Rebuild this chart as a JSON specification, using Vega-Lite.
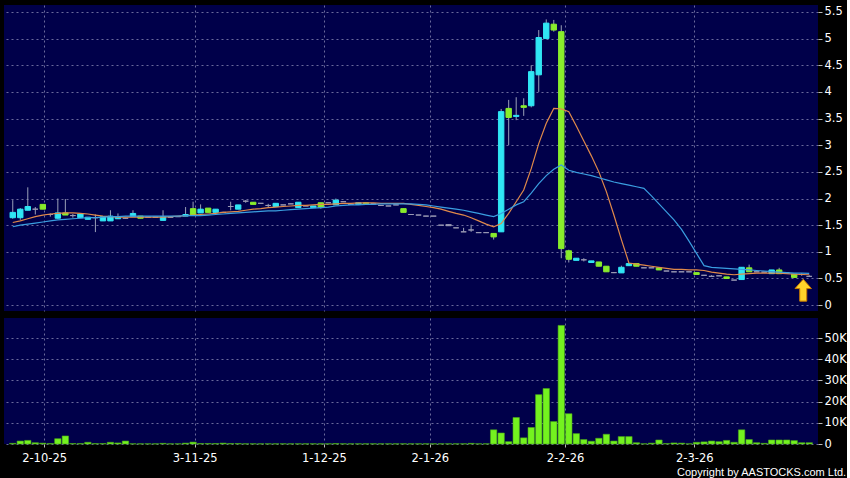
{
"$schema":"https://vega.github.io/schema/vega-lite/v6.json",
"background":"black",
"padding":{"left":4,"top":5,"right":0,"bottom":0},
"spacing":7,
"title":{"text":"Copyright by AASTOCKS.com Ltd.","orient":"bottom","anchor":"end","frame":"bounds","color":"white","fontSize":11,"fontWeight":"normal","font":"Liberation Sans","offset":3},
"config":{"view":{"fill":"#00004a","stroke":null},"axis":{"gridColor":"#6a6a9c","gridDash":[2,3],"gridWidth":1,"labelColor":"white","labelFont":"DejaVu Sans","labelFontSize":11.5,"tickColor":"#bbbbbb","domain":false,"title":null}},
"datasets":{
"k":[
{"i":0,"o":1.64,"c":1.74,"h":1.97,"l":1.62,"v":0.3,"a":1.55,"b":1.47,"d":"u"},
{"i":1,"o":1.64,"c":1.80,"h":1.82,"l":1.60,"v":1.4,"a":1.58,"b":1.50,"d":"u"},
{"i":2,"o":1.78,"c":1.85,"h":2.21,"l":1.78,"v":1.7,"a":1.62,"b":1.52,"d":"u"},
{"i":3,"o":1.80,"c":1.80,"h":1.84,"l":1.70,"v":0.6,"a":1.66,"b":1.54,"d":"f"},
{"i":4,"o":1.89,"c":1.80,"h":1.89,"l":1.80,"v":0.4,"a":1.69,"b":1.56,"d":"d"},
{"i":5,"o":1.70,"c":1.70,"h":1.72,"l":1.66,"v":0.2,"a":1.71,"b":1.58,"d":"f"},
{"i":6,"o":1.63,"c":1.73,"h":2.00,"l":1.62,"v":2.5,"a":1.72,"b":1.60,"d":"u"},
{"i":7,"o":1.73,"c":1.69,"h":1.99,"l":1.69,"v":3.8,"a":1.73,"b":1.61,"d":"d"},
{"i":8,"o":1.68,"c":1.68,"h":1.71,"l":1.64,"v":0.2,"a":1.73,"b":1.62,"d":"f"},
{"i":9,"o":1.64,"c":1.71,"h":1.71,"l":1.64,"v":0.2,"a":1.72,"b":1.63,"d":"u"},
{"i":10,"o":1.61,"c":1.65,"h":1.65,"l":1.61,"v":0.8,"a":1.71,"b":1.64,"d":"u"},
{"i":11,"o":1.64,"c":1.64,"h":1.70,"l":1.37,"v":0.2,"a":1.69,"b":1.64,"d":"f"},
{"i":12,"o":1.58,"c":1.66,"h":1.66,"l":1.58,"v":0.2,"a":1.67,"b":1.65,"d":"u"},
{"i":13,"o":1.58,"c":1.67,"h":1.78,"l":1.58,"v":0.8,"a":1.66,"b":1.66,"d":"u"},
{"i":14,"o":1.62,"c":1.65,"h":1.72,"l":1.62,"v":0.5,"a":1.65,"b":1.66,"d":"u"},
{"i":15,"o":1.63,"c":1.63,"h":1.64,"l":1.62,"v":1.4,"a":1.65,"b":1.67,"d":"f"},
{"i":16,"o":1.66,"c":1.72,"h":1.78,"l":1.66,"v":0.1,"a":1.65,"b":1.67,"d":"u"},
{"i":17,"o":1.67,"c":1.63,"h":1.67,"l":1.63,"v":0.1,"a":1.65,"b":1.67,"d":"d"},
{"i":18,"o":1.65,"c":1.65,"h":1.65,"l":1.65,"v":0.1,"a":1.65,"b":1.67,"d":"f"},
{"i":19,"o":1.65,"c":1.65,"h":1.65,"l":1.65,"v":0.1,"a":1.65,"b":1.67,"d":"f"},
{"i":20,"o":1.59,"c":1.66,"h":1.78,"l":1.59,"v":0.3,"a":1.65,"b":1.67,"d":"u"},
{"i":21,"o":1.65,"c":1.65,"h":1.65,"l":1.65,"v":0.1,"a":1.66,"b":1.67,"d":"f"},
{"i":22,"o":1.66,"c":1.66,"h":1.66,"l":1.66,"v":0.1,"a":1.67,"b":1.67,"d":"f"},
{"i":23,"o":1.67,"c":1.70,"h":1.84,"l":1.67,"v":0.4,"a":1.68,"b":1.68,"d":"u"},
{"i":24,"o":1.81,"c":1.69,"h":1.94,"l":1.69,"v":0.9,"a":1.69,"b":1.68,"d":"d"},
{"i":25,"o":1.73,"c":1.80,"h":1.89,"l":1.73,"v":0.2,"a":1.70,"b":1.68,"d":"u"},
{"i":26,"o":1.82,"c":1.74,"h":1.82,"l":1.74,"v":0.2,"a":1.71,"b":1.69,"d":"d"},
{"i":27,"o":1.74,"c":1.80,"h":1.80,"l":1.74,"v":0.2,"a":1.72,"b":1.70,"d":"u"},
{"i":28,"o":1.74,"c":1.74,"h":1.75,"l":1.73,"v":0.4,"a":1.74,"b":1.71,"d":"f"},
{"i":29,"o":1.85,"c":1.85,"h":1.94,"l":1.78,"v":0.2,"a":1.75,"b":1.72,"d":"f"},
{"i":30,"o":1.80,"c":1.88,"h":1.88,"l":1.80,"v":0.2,"a":1.76,"b":1.73,"d":"u"},
{"i":31,"o":1.95,"c":1.95,"h":1.97,"l":1.92,"v":0.1,"a":1.78,"b":1.74,"d":"f"},
{"i":32,"o":1.93,"c":1.89,"h":1.93,"l":1.89,"v":0.1,"a":1.80,"b":1.75,"d":"d"},
{"i":33,"o":1.91,"c":1.91,"h":1.91,"l":1.91,"v":0.1,"a":1.81,"b":1.76,"d":"f"},
{"i":34,"o":1.87,"c":1.87,"h":1.90,"l":1.84,"v":0.1,"a":1.83,"b":1.77,"d":"f"},
{"i":35,"o":1.85,"c":1.91,"h":1.91,"l":1.85,"v":0.1,"a":1.84,"b":1.77,"d":"u"},
{"i":36,"o":1.88,"c":1.88,"h":1.88,"l":1.88,"v":0.1,"a":1.85,"b":1.78,"d":"f"},
{"i":37,"o":1.90,"c":1.90,"h":1.90,"l":1.90,"v":0.1,"a":1.86,"b":1.79,"d":"f"},
{"i":38,"o":1.83,"c":1.93,"h":1.93,"l":1.83,"v":0.1,"a":1.87,"b":1.80,"d":"u"},
{"i":39,"o":1.86,"c":1.86,"h":1.86,"l":1.86,"v":0.1,"a":1.87,"b":1.81,"d":"f"},
{"i":40,"o":1.83,"c":1.86,"h":1.86,"l":1.83,"v":0.1,"a":1.88,"b":1.82,"d":"u"},
{"i":41,"o":1.92,"c":1.83,"h":1.92,"l":1.81,"v":0.1,"a":1.89,"b":1.83,"d":"d"},
{"i":42,"o":1.92,"c":1.92,"h":1.92,"l":1.92,"v":0.1,"a":1.89,"b":1.84,"d":"f"},
{"i":43,"o":1.88,"c":1.97,"h":2.00,"l":1.88,"v":0.2,"a":1.90,"b":1.86,"d":"u"},
{"i":44,"o":1.94,"c":1.94,"h":1.94,"l":1.94,"v":0.1,"a":1.91,"b":1.87,"d":"f"},
{"i":45,"o":1.89,"c":1.89,"h":1.89,"l":1.89,"v":0.1,"a":1.91,"b":1.88,"d":"f"},
{"i":46,"o":1.89,"c":1.92,"h":1.92,"l":1.89,"v":0.1,"a":1.92,"b":1.88,"d":"u"},
{"i":47,"o":1.92,"c":1.90,"h":1.92,"l":1.90,"v":0.1,"a":1.92,"b":1.89,"d":"d"},
{"i":48,"o":1.90,"c":1.90,"h":1.90,"l":1.90,"v":0.1,"a":1.92,"b":1.89,"d":"f"},
{"i":49,"o":1.87,"c":1.87,"h":1.87,"l":1.87,"v":0.1,"a":1.91,"b":1.90,"d":"f"},
{"i":50,"o":1.86,"c":1.86,"h":1.86,"l":1.86,"v":0.1,"a":1.91,"b":1.90,"d":"f"},
{"i":51,"o":1.88,"c":1.88,"h":1.88,"l":1.88,"v":0.1,"a":1.91,"b":1.90,"d":"f"},
{"i":52,"o":1.81,"c":1.74,"h":1.81,"l":1.74,"v":0.1,"a":1.91,"b":1.90,"d":"d"},
{"i":53,"o":1.70,"c":1.70,"h":1.70,"l":1.70,"v":0.1,"a":1.89,"b":1.90,"d":"f"},
{"i":54,"o":1.69,"c":1.69,"h":1.69,"l":1.69,"v":0.1,"a":1.87,"b":1.89,"d":"f"},
{"i":55,"o":1.67,"c":1.67,"h":1.67,"l":1.67,"v":0.1,"a":1.85,"b":1.88,"d":"f"},
{"i":56,"o":1.67,"c":1.67,"h":1.67,"l":1.67,"v":0.1,"a":1.83,"b":1.86,"d":"f"},
{"i":57,"o":1.50,"c":1.50,"h":1.50,"l":1.50,"v":0.1,"a":1.80,"b":1.84,"d":"f"},
{"i":58,"o":1.51,"c":1.49,"h":1.51,"l":1.49,"v":0.1,"a":1.76,"b":1.82,"d":"f"},
{"i":59,"o":1.45,"c":1.45,"h":1.45,"l":1.45,"v":0.1,"a":1.72,"b":1.80,"d":"f"},
{"i":60,"o":1.375,"c":1.375,"h":1.45,"l":1.375,"v":0.1,"a":1.69,"b":1.78,"d":"f"},
{"i":61,"o":1.41,"c":1.41,"h":1.51,"l":1.375,"v":0.3,"a":1.64,"b":1.75,"d":"f"},
{"i":62,"o":1.36,"c":1.36,"h":1.36,"l":1.36,"v":0.1,"a":1.58,"b":1.72,"d":"f"},
{"i":63,"o":1.36,"c":1.36,"h":1.36,"l":1.36,"v":0.1,"a":1.52,"b":1.69,"d":"f"},
{"i":64,"o":1.345,"c":1.28,"h":1.345,"l":1.23,"v":6.7,"a":1.47,"b":1.66,"d":"d"},
{"i":65,"o":1.375,"c":3.63,"h":3.68,"l":1.375,"v":5.2,"a":1.53,"b":1.72,"d":"u"},
{"i":66,"o":3.69,"c":3.52,"h":3.85,"l":3.00,"v":1.1,"a":1.72,"b":1.80,"d":"d"},
{"i":67,"o":3.54,"c":3.56,"h":3.90,"l":3.47,"v":12.5,"a":1.94,"b":1.88,"d":"u"},
{"i":68,"o":3.74,"c":3.71,"h":3.88,"l":3.55,"v":2.9,"a":2.16,"b":1.94,"d":"d"},
{"i":69,"o":3.74,"c":4.38,"h":4.50,"l":3.71,"v":7.8,"a":2.56,"b":2.10,"d":"u"},
{"i":70,"o":4.32,"c":5.02,"h":5.16,"l":4.00,"v":23.3,"a":3.03,"b":2.28,"d":"u"},
{"i":71,"o":5.00,"c":5.29,"h":5.36,"l":5.00,"v":26.2,"a":3.41,"b":2.43,"d":"u"},
{"i":72,"o":5.27,"c":5.16,"h":5.35,"l":5.13,"v":10.6,"a":3.69,"b":2.55,"d":"d"},
{"i":73,"o":5.13,"c":1.06,"h":5.25,"l":0.88,"v":56,"a":3.68,"b":2.63,"d":"d"},
{"i":74,"o":1.02,"c":0.86,"h":1.04,"l":0.80,"v":14.3,"a":3.63,"b":2.53,"d":"d"},
{"i":75,"o":0.84,"c":0.88,"h":0.88,"l":0.84,"v":4.9,"a":3.36,"b":2.49,"d":"u"},
{"i":76,"o":0.85,"c":0.85,"h":0.88,"l":0.82,"v":2.1,"a":3.08,"b":2.46,"d":"f"},
{"i":77,"o":0.80,"c":0.83,"h":0.83,"l":0.80,"v":1.3,"a":2.80,"b":2.43,"d":"u"},
{"i":78,"o":0.81,"c":0.73,"h":0.81,"l":0.73,"v":2.7,"a":2.50,"b":2.39,"d":"d"},
{"i":79,"o":0.73,"c":0.625,"h":0.73,"l":0.625,"v":4.6,"a":2.13,"b":2.35,"d":"d"},
{"i":80,"o":0.61,"c":0.61,"h":0.62,"l":0.60,"v":1.4,"a":1.69,"b":2.31,"d":"f"},
{"i":81,"o":0.605,"c":0.71,"h":0.74,"l":0.605,"v":3.5,"a":1.23,"b":2.28,"d":"u"},
{"i":82,"o":0.74,"c":0.78,"h":0.78,"l":0.74,"v":3.5,"a":0.79,"b":2.25,"d":"u"},
{"i":83,"o":0.78,"c":0.73,"h":0.78,"l":0.73,"v":0.6,"a":0.77,"b":2.22,"d":"d"},
{"i":84,"o":0.70,"c":0.70,"h":0.70,"l":0.70,"v":0.1,"a":0.75,"b":2.19,"d":"f"},
{"i":85,"o":0.70,"c":0.70,"h":0.70,"l":0.70,"v":0.4,"a":0.73,"b":2.05,"d":"f"},
{"i":86,"o":0.70,"c":0.66,"h":0.70,"l":0.66,"v":1.9,"a":0.71,"b":1.90,"d":"d"},
{"i":87,"o":0.64,"c":0.64,"h":0.64,"l":0.64,"v":0.2,"a":0.69,"b":1.75,"d":"f"},
{"i":88,"o":0.625,"c":0.625,"h":0.625,"l":0.625,"v":0.5,"a":0.67,"b":1.60,"d":"f"},
{"i":89,"o":0.625,"c":0.625,"h":0.625,"l":0.625,"v":0.4,"a":0.67,"b":1.42,"d":"f"},
{"i":90,"o":0.625,"c":0.625,"h":0.625,"l":0.625,"v":0.1,"a":0.66,"b":1.20,"d":"f"},
{"i":91,"o":0.61,"c":0.575,"h":0.61,"l":0.575,"v":0.8,"a":0.66,"b":0.97,"d":"d"},
{"i":92,"o":0.56,"c":0.56,"h":0.56,"l":0.56,"v":1.0,"a":0.65,"b":0.74,"d":"f"},
{"i":93,"o":0.54,"c":0.54,"h":0.56,"l":0.53,"v":1.4,"a":0.62,"b":0.71,"d":"f"},
{"i":94,"o":0.55,"c":0.55,"h":0.55,"l":0.55,"v":1.1,"a":0.60,"b":0.70,"d":"f"},
{"i":95,"o":0.53,"c":0.50,"h":0.53,"l":0.50,"v":1.7,"a":0.58,"b":0.69,"d":"d"},
{"i":96,"o":0.47,"c":0.47,"h":0.47,"l":0.47,"v":0.8,"a":0.57,"b":0.68,"d":"f"},
{"i":97,"o":0.48,"c":0.71,"h":0.71,"l":0.48,"v":6.7,"a":0.58,"b":0.67,"d":"u"},
{"i":98,"o":0.70,"c":0.625,"h":0.76,"l":0.625,"v":2.1,"a":0.59,"b":0.66,"d":"d"},
{"i":99,"o":0.625,"c":0.625,"h":0.625,"l":0.625,"v":0.6,"a":0.60,"b":0.65,"d":"f"},
{"i":100,"o":0.62,"c":0.62,"h":0.62,"l":0.62,"v":0.3,"a":0.60,"b":0.64,"d":"f"},
{"i":101,"o":0.59,"c":0.66,"h":0.66,"l":0.59,"v":1.9,"a":0.60,"b":0.63,"d":"u"},
{"i":102,"o":0.66,"c":0.59,"h":0.70,"l":0.59,"v":1.9,"a":0.60,"b":0.62,"d":"d"},
{"i":103,"o":0.605,"c":0.605,"h":0.605,"l":0.605,"v":1.9,"a":0.59,"b":0.61,"d":"f"},
{"i":104,"o":0.58,"c":0.52,"h":0.58,"l":0.52,"v":1.6,"a":0.58,"b":0.60,"d":"d"},
{"i":105,"o":0.575,"c":0.575,"h":0.60,"l":0.55,"v":0.6,"a":0.575,"b":0.60,"d":"f"},
{"i":106,"o":0.54,"c":0.54,"h":0.56,"l":0.53,"v":0.6,"a":0.57,"b":0.595,"d":"f"}
],
"arrow":[{"i":105.2,"p":0.28}]
},
"vconcat":[
{"width":814,"height":306,
 "layer":[
  {"data":{"name":"k"},"mark":{"type":"rule","color":"#9aa0b8","strokeWidth":1},
   "encoding":{
    "x":{"field":"i","type":"quantitative","scale":{"domain":[-0.5,106.5],"nice":false,"zero":false},"axis":{"values":[4.17,24.2,41.4,55.5,73.5,90.7],"grid":true,"labels":false,"ticks":false,"domain":false}},
    "y":{"field":"l","type":"quantitative","scale":{"domain":[-0.11,5.63],"nice":false,"zero":false},"axis":{"orient":"right","values":[0,0.5,1,1.5,2,2.5,3,3.5,4,4.5,5,5.5],"format":"~g","grid":true,"tickSize":4,"labelPadding":2}},
    "y2":{"field":"h"}}},
  {"data":{"name":"k"},"mark":{"type":"bar","width":5.4,"strokeWidth":1},
   "encoding":{
    "x":{"field":"i","type":"quantitative","axis":{"values":[4.17,24.2,41.4,55.5,73.5,90.7],"grid":true,"labels":false,"ticks":false,"domain":false}},
    "y":{"field":"o","type":"quantitative","axis":{"orient":"right","values":[0,0.5,1,1.5,2,2.5,3,3.5,4,4.5,5,5.5],"format":"~g","grid":true,"tickSize":4,"labelPadding":2}},
    "y2":{"field":"c"},
    "fill":{"field":"d","type":"nominal","scale":{"domain":["u","d","f"],"range":["#30e6f4","#88ec2c","#9a9ab4"]},"legend":null},
    "stroke":{"field":"d","type":"nominal","scale":{"domain":["u","d","f"],"range":["#30e6f4","#88ec2c","#9a9ab4"]},"legend":null}}},
  {"data":{"name":"k"},"mark":{"type":"line","color":"#e0894a","strokeWidth":1.2},
   "encoding":{"x":{"field":"i","type":"quantitative","axis":{"values":[4.17,24.2,41.4,55.5,73.5,90.7],"grid":true,"labels":false,"ticks":false,"domain":false}},"y":{"field":"a","type":"quantitative","axis":{"orient":"right","values":[0,0.5,1,1.5,2,2.5,3,3.5,4,4.5,5,5.5],"format":"~g","grid":true,"tickSize":4,"labelPadding":2}}}},
  {"data":{"name":"k"},"mark":{"type":"line","color":"#3a9ee0","strokeWidth":1.2},
   "encoding":{"x":{"field":"i","type":"quantitative","axis":{"values":[4.17,24.2,41.4,55.5,73.5,90.7],"grid":true,"labels":false,"ticks":false,"domain":false}},"y":{"field":"b","type":"quantitative","axis":{"orient":"right","values":[0,0.5,1,1.5,2,2.5,3,3.5,4,4.5,5,5.5],"format":"~g","grid":true,"tickSize":4,"labelPadding":2}}}},
  {"data":{"name":"arrow"},"mark":{"type":"point","filled":true,"shape":"M0,-1L0.75,-0.15L0.32,-0.15L0.32,1L-0.32,1L-0.32,-0.15L-0.75,-0.15Z","size":480,"fill":"#ffd42a","stroke":"#c87a00","strokeWidth":1,"opacity":1},
   "encoding":{"x":{"field":"i","type":"quantitative","axis":{"values":[4.17,24.2,41.4,55.5,73.5,90.7],"grid":true,"labels":false,"ticks":false,"domain":false}},"y":{"field":"p","type":"quantitative","axis":{"orient":"right","values":[0,0.5,1,1.5,2,2.5,3,3.5,4,4.5,5,5.5],"format":"~g","grid":true,"tickSize":4,"labelPadding":2}}}}
 ]},
{"width":814,"height":126,
 "data":{"name":"k"},
 "mark":{"type":"bar","width":6.4,"fill":"#74f21f","stroke":"#4aa81a","strokeWidth":0.6},
 "encoding":{
  "x":{"field":"i","type":"quantitative","scale":{"domain":[-0.5,106.5],"nice":false,"zero":false},"axis":{"values":[4.17,24.2,41.4,55.5,73.5,90.7],"grid":true,"tickSize":3,"labelPadding":5,"labelExpr":"datum.value < 10 ? '2-10-25' : datum.value < 30 ? '3-11-25' : datum.value < 50 ? '1-12-25' : datum.value < 60 ? '2-1-26' : datum.value < 80 ? '2-2-26' : '2-3-26'"}},
  "y":{"field":"v","type":"quantitative","scale":{"domain":[0,59.5],"nice":false},"axis":{"orient":"right","values":[0,10,20,30,40,50],"grid":true,"tickSize":4,"labelPadding":2,"labelExpr":"datum.value == 0 ? '0' : datum.value + 'K'"}}}}
]
}
